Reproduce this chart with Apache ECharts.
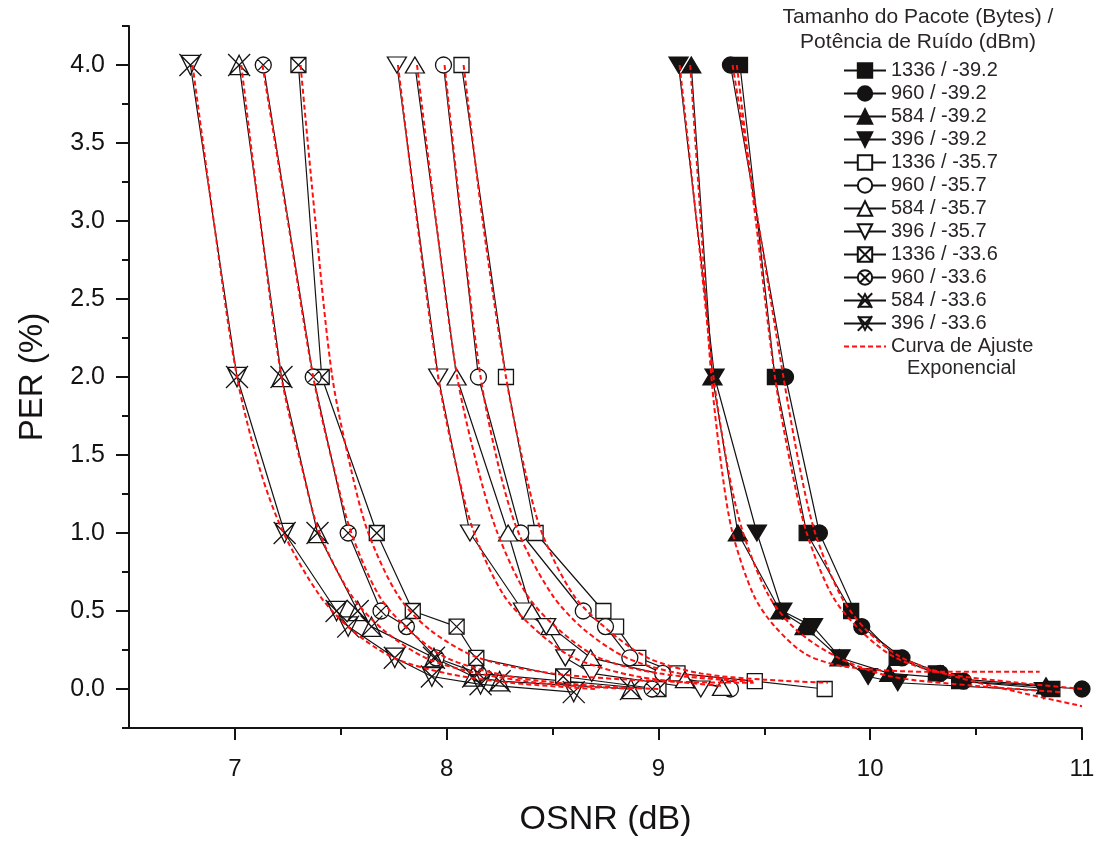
<!DOCTYPE html>
<html><head><meta charset="utf-8">
<script src="https://cdn.jsdelivr.net/npm/echarts@6/dist/echarts.min.js"></script>
<style>html,body{margin:0;padding:0;background:#fff}#c{width:1101px;height:842px}</style>
</head><body><div id="c"></div>
<script>
// ---- data (OSNR dB, PER %) ----
const seriesNames = ['1336 / -39.2','960 / -39.2','584 / -39.2','396 / -39.2',
  '1336 / -35.7','960 / -35.7','584 / -35.7','396 / -35.7',
  '1336 / -33.6','960 / -33.6','584 / -33.6','396 / -33.6'];
const fitName = 'Curva de Ajuste Exponencial';

const d1336_392 = [[9.385,4.0],[9.55,2.0],[9.70,1.0],[9.91,0.5],[10.125,0.2],[10.31,0.1],[10.42,0.05],[10.86,0.0]];
const d960_392  = [[9.34,4.0],[9.60,2.0],[9.76,1.0],[9.96,0.4],[10.15,0.2],[10.33,0.1],[10.44,0.05],[11.0,0.0]];
const d584_392  = [[9.155,4.0],[9.255,2.0],[9.375,1.0],[9.575,0.5],[9.69,0.4],[9.855,0.2],[10.09,0.1],[10.83,0.02]];
const d396_392  = [[9.095,4.0],[9.265,2.0],[9.465,1.0],[9.585,0.5],[9.73,0.4],[9.86,0.2],[9.99,0.08],[10.13,0.04],[10.82,-0.01]];
const d1336_357 = [[8.07,4.0],[8.28,2.0],[8.42,1.0],[8.74,0.5],[8.80,0.4],[8.905,0.2],[9.09,0.1],[9.455,0.05],[9.785,0.0]];
const d960_357  = [[7.985,4.0],[8.15,2.0],[8.35,1.0],[8.645,0.5],[8.75,0.4],[8.865,0.2],[9.02,0.1],[9.34,0.0]];
const d584_357  = [[7.85,4.0],[8.047,2.0],[8.29,1.0],[8.40,0.5],[8.49,0.4],[8.68,0.2],[9.125,0.06],[9.30,0.01]];
const d396_357  = [[7.765,4.0],[7.96,2.0],[8.11,1.0],[8.36,0.5],[8.47,0.4],[8.56,0.2],[8.685,0.1],[9.20,0.0]];
const d1336_336 = [[7.30,4.0],[7.41,2.0],[7.67,1.0],[7.84,0.5],[8.047,0.4],[8.14,0.2],[8.55,0.08],[9.0,0.0]];
const d960_336  = [[7.134,4.0],[7.37,2.0],[7.535,1.0],[7.69,0.5],[7.81,0.4],[7.95,0.2],[8.15,0.1],[8.97,0.0]];
const d584_336  = [[7.02,4.0],[7.22,2.0],[7.39,1.0],[7.58,0.5],[7.645,0.4],[7.94,0.2],[8.125,0.08],[8.25,0.05],[8.87,0.0]];
const d396_336  = [[6.79,4.0],[7.01,2.0],[7.235,1.0],[7.48,0.5],[7.535,0.4],[7.755,0.2],[7.93,0.08],[8.16,0.03],[8.60,-0.02]];

// red dashed exponential fit curves
const f1336_392 = [[9.37,4.0],[9.46,3.0],[9.55,2.0],[9.63,1.4],[9.70,1.0],[9.82,0.6],[9.95,0.38],[10.12,0.2],[10.35,0.1],[10.7,0.04],[11.0,0.0]];
const f960_392  = [[9.35,4.0],[9.47,3.0],[9.59,2.0],[9.67,1.4],[9.74,1.0],[9.86,0.6],[9.98,0.38],[10.15,0.2],[10.4,0.08],[10.7,-0.02],[11.0,-0.11]];
const f584_392  = [[9.15,4.0],[9.20,3.0],[9.25,2.0],[9.30,1.4],[9.35,1.0],[9.45,0.6],[9.55,0.4],[9.70,0.22],[9.90,0.14],[10.3,0.11],[10.8,0.11]];
const f396_392  = [[9.10,4.0],[9.18,3.0],[9.26,2.0],[9.33,1.4],[9.40,1.0],[9.52,0.6],[9.65,0.38],[9.85,0.2],[10.1,0.08],[10.5,0.02],[10.9,-0.02]];
const f1336_357 = [[8.08,4.0],[8.17,3.0],[8.28,2.0],[8.37,1.4],[8.45,1.0],[8.60,0.6],[8.76,0.38],[8.95,0.2],[9.2,0.1],[9.5,0.06],[9.8,0.04]];
const f960_357  = [[7.99,4.0],[8.07,3.0],[8.16,2.0],[8.25,1.4],[8.34,1.0],[8.50,0.6],[8.65,0.38],[8.85,0.2],[9.1,0.1],[9.45,0.05]];
const f584_357  = [[7.86,4.0],[7.95,3.0],[8.05,2.0],[8.15,1.4],[8.24,1.0],[8.38,0.6],[8.53,0.38],[8.72,0.2],[9.0,0.1],[9.4,0.05]];
const f396_357  = [[7.77,4.0],[7.86,3.0],[7.96,2.0],[8.05,1.4],[8.13,1.0],[8.27,0.6],[8.42,0.38],[8.60,0.2],[8.9,0.08],[9.3,0.02]];
const f1336_336 = [[7.31,4.0],[7.38,3.0],[7.46,2.0],[7.55,1.4],[7.63,1.0],[7.77,0.6],[7.92,0.38],[8.15,0.2],[8.5,0.1],[9.0,0.05],[9.45,0.04]];
const f960_336  = [[7.13,4.0],[7.25,3.0],[7.37,2.0],[7.47,1.4],[7.55,1.0],[7.68,0.6],[7.82,0.38],[8.0,0.2],[8.3,0.08],[8.7,0.02],[9.0,0.0]];
const f584_336  = [[7.03,4.0],[7.12,3.0],[7.22,2.0],[7.32,1.4],[7.40,1.0],[7.55,0.6],[7.70,0.38],[7.90,0.2],[8.15,0.1],[8.5,0.03],[8.9,0.0]];
const f396_336  = [[6.80,4.0],[6.90,3.0],[7.01,2.0],[7.12,1.4],[7.23,1.0],[7.40,0.6],[7.55,0.38],[7.75,0.2],[8.0,0.1],[8.3,0.04],[8.7,0.0]];

const xLabels = [7, 8, 9, 10, 11];
const xMinor = [7.5, 8.5, 9.5, 10.5];
const yLabels = [0, 0.5, 1.0, 1.5, 2.0, 2.5, 3.0, 3.5, 4.0];
const yMinor = [-0.25, 0.25, 0.75, 1.25, 1.75, 2.25, 2.75, 3.25, 3.75, 4.25];

// ---- build ----
const FONT = "'Liberation Sans', Arial, sans-serif";
const INK = '#151212';
const SYM = {
  sq: 'rect', ci: 'circle', up: 'triangle',
  dn: 'path://M0,0L10,0L5,9Z',
  sqx: 'path://M0,0L10,0L10,10L0,10Z M0,0L10,10 M10,0L0,10',
  cix: 'path://M0,5A5,5 0 1 1 10,5A5,5 0 1 1 0,5Z M1.5,1.5L8.5,8.5 M8.5,1.5L1.5,8.5',
  xup: 'path://M0,0L10,10 M10,0L0,10 M5,0.6L9.4,9.4L0.6,9.4Z',
  xdn: 'path://M0,0L10,10 M10,0L0,10 M0.6,0.6L9.4,0.6L5,9.4Z'
};
const dataSets = [d1336_392,d960_392,d584_392,d396_392,d1336_357,d960_357,d584_357,d396_357,d1336_336,d960_336,d584_336,d396_336];
const fitSets = [f1336_392,f960_392,f584_392,f396_392,f1336_357,f960_357,f584_357,f396_357,f1336_336,f960_336,f584_336,f396_336];
const symDefs = [
  ['sq',15,INK],['ci',16,INK],['up',[19,16],INK],['dn',[19,16],INK],
  ['sq',15,'#fff'],['ci',16,'#fff'],['up',[19,16],'#fff'],['dn',[19,16],'#fff'],
  ['sqx',15,'#fff'],['cix',16,'#fff'],['xup',[22,22],'rgba(0,0,0,0)'],['xdn',[22,22],'rgba(0,0,0,0)']
];

const series = [];
dataSets.forEach((d, i) => {
  const [s, size, fill] = symDefs[i];
  series.push({
    name: seriesNames[i], type: 'line', data: d, symbol: SYM[s], symbolSize: size,
    showSymbol: true, z: 3,
    itemStyle: { color: fill, borderColor: INK, borderWidth: 1.3 },
    lineStyle: { color: INK, width: 1.2 },
    emphasis: { disabled: true }
  });
});
fitSets.forEach((d) => {
  series.push({
    name: fitName, type: 'line', data: d, symbol: 'none', smooth: 0.3, z: 5,
    lineStyle: { color: '#ff1010', width: 2, type: [5, 3] },
    itemStyle: { color: '#ff1010' },
    emphasis: { disabled: true }
  });
});

const axisCommon = { type: 'value', splitLine: { show: false } };
const option = {
  animation: false,
  backgroundColor: '#fff',
  grid: { left: 129, top: 26, right: 19, bottom: 113, containLabel: false },
  xAxis: [
    Object.assign({}, axisCommon, {
      min: 6.5, max: 11, position: 'bottom',
      name: 'OSNR (dB)', nameLocation: 'middle', nameGap: 75,
      nameTextStyle: { fontSize: 34, fontFamily: FONT, color: INK },
      axisLine: { show: true, onZero: false, lineStyle: { color: INK, width: 2 } },
      axisTick: { show: true, inside: false, length: 12, lineStyle: { color: INK, width: 2 }, customValues: xLabels },
      axisLabel: { customValues: xLabels, fontSize: 24, fontFamily: FONT, color: INK, margin: 29 }
    }),
    Object.assign({}, axisCommon, {
      min: 6.5, max: 11, position: 'bottom',
      axisLine: { show: false, onZero: false },
      axisTick: { show: true, length: 7, lineStyle: { color: INK, width: 2 }, customValues: xMinor },
      axisLabel: { show: false, customValues: xMinor }
    })
  ],
  yAxis: [
    Object.assign({}, axisCommon, {
      min: -0.25, max: 4.25, position: 'left',
      name: 'PER (%)', nameLocation: 'middle', nameGap: 80,
      nameTextStyle: { fontSize: 33, fontFamily: FONT, color: INK },
      axisLine: { show: true, onZero: false, lineStyle: { color: INK, width: 2 } },
      axisTick: { show: true, length: 13, lineStyle: { color: INK, width: 2 }, customValues: yLabels },
      axisLabel: { customValues: yLabels, fontSize: 25, fontFamily: FONT, color: INK, margin: 24,
        formatter: v => Number(v).toFixed(1) }
    }),
    Object.assign({}, axisCommon, {
      min: -0.25, max: 4.25, position: 'left',
      axisLine: { show: false, onZero: false },
      axisTick: { show: true, length: 7, lineStyle: { color: INK, width: 2 }, customValues: yMinor },
      axisLabel: { show: false, customValues: yMinor }
    })
  ],
  legend: {
    orient: 'vertical', left: 838, top: 55, itemWidth: 42, itemHeight: 18, itemGap: 2,
    selectedMode: false,
    data: seriesNames.concat([{ name: fitName, itemStyle: { opacity: 0 } }]),
    formatter: n => n === fitName ? 'Curva de Ajuste' : n,
    textStyle: { fontSize: 20, fontFamily: FONT, color: '#2a2626', lineHeight: 21 }
  },
  graphic: [
    { type: 'text', x: 918, y: 17, style: { text: 'Tamanho do Pacote (Bytes) /', font: "21px 'Liberation Sans', Arial", fill: '#2a2626', align: 'center', verticalAlign: 'middle' } },
    { type: 'text', x: 918, y: 42, style: { text: 'Potência de Ruído (dBm)', font: "21px 'Liberation Sans', Arial", fill: '#2a2626', align: 'center', verticalAlign: 'middle' } },
    { type: 'text', x: 907, y: 368, style: { text: 'Exponencial', font: "20px 'Liberation Sans', Arial", fill: '#2a2626', align: 'left', verticalAlign: 'middle' } }
  ],
  series: series
};
const chart = echarts.init(document.getElementById('c'), null, { renderer: 'canvas' });
chart.setOption(option);
</script>
</body></html>
